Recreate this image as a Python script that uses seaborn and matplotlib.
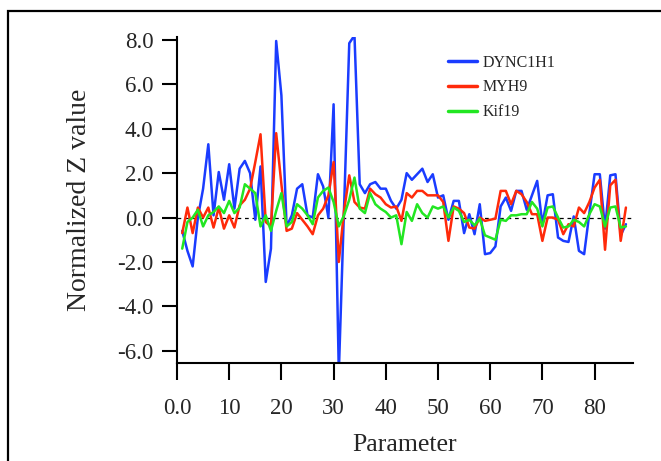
import numpy as np
import pandas as pd
import matplotlib
matplotlib.use("Agg")
import matplotlib.pyplot as plt
import seaborn as sns
from matplotlib.patches import Rectangle
from matplotlib.lines import Line2D

params = list(range(1, 87))
dync1h1 = [-0.6, -1.5, -2.2, 0.0, 1.3, 3.3, 0.1, 2.05, 0.8, 2.4,
           0.4, 2.2, 2.55, 2.0, -0.1, 2.3, -2.9, -1.4, 7.95, 5.5,
           -0.4, 0.1, 1.3, 1.5, 0.1, 0.0, 1.95, 1.4, 0.0, 5.1,
           -7.0, 0.4, 7.85, 8.2, 1.5, 1.1, 1.5, 1.6, 1.3, 1.3,
           0.75, 0.4, 0.8, 2.0, 1.7, 1.95, 2.2, 1.6, 1.95, 0.9,
           1.0, -0.1, 0.75, 0.75, -0.7, 0.15, -0.75, 0.6, -1.65, -1.6,
           -1.3, 0.5, 0.9, 0.3, 1.2, 1.2, 0.35, 1.0, 1.65, -0.3,
           1.0, 1.05, -0.9, -1.05, -1.1, 0.05, -1.5, -1.65, 0.2, 1.95,
           1.95, -0.5, 1.9, 1.95, -0.8, -0.3]
myh9 = [-0.7, 0.45, -0.7, 0.45, 0.0, 0.45, -0.45, 0.45, -0.5, 0.1,
        -0.45, 0.55, 0.8, 1.3, 2.5, 3.75, -0.2, -0.4, 3.8, 1.5,
        -0.6, -0.5, 0.2, -0.1, -0.4, -0.75, 0.1, 0.4, 1.0, 2.5,
        -2.0, 0.3, 1.9, 0.7, 0.45, 0.4, 1.3, 1.05, 0.9, 0.6,
        0.45, 0.5, -0.15, 1.1, 0.9, 1.2, 1.2, 1.0, 1.0, 1.0,
        0.7, -1.05, 0.5, 0.4, 0.2, -0.45, -0.5, 0.0, -0.15, -0.1,
        -0.05, 1.2, 1.2, 0.6, 1.2, 1.05, 0.7, 0.15, 0.15, -1.05,
        0.0, 0.0, -0.1, -0.75, -0.3, -0.4, 0.45, 0.2, 0.7, 1.35,
        1.7, -1.45, 1.45, 1.7, -1.05, 0.45]
kif19 = [-1.4, -0.2, 0.0, 0.35, -0.4, 0.1, 0.25, 0.5, 0.2, 0.75,
         0.2, 0.45, 1.5, 1.3, 1.1, -0.4, 0.1, -0.6, 0.3, 1.1,
         -0.4, -0.2, 0.6, 0.4, 0.1, -0.3, 0.9, 1.2, 1.35, 0.7,
         -0.4, 0.1, 0.8, 1.8, 0.4, 0.2, 1.1, 0.6, 0.4, 0.25,
         0.0, 0.1, -1.2, 0.25, -0.15, 0.6, 0.2, 0.0, 0.5, 0.4,
         0.5, 0.0, 0.45, 0.3, -0.2, -0.1, -0.35, -0.05, -0.8, -0.9,
         -1.0, -0.1, -0.15, 0.1, 0.1, 0.15, 0.15, 0.7, 0.4, -0.4,
         0.45, 0.5, 0.0, -0.45, -0.4, -0.1, -0.2, -0.4, 0.15, 0.6,
         0.5, -0.4, 0.45, 0.5, -0.45, -0.4]

series_names = ["DYNC1H1", "MYH9", "Kif19"]
colors = ["#1a3cff", "#ff2a0a", "#22e622"]
xticks = [0, 10, 20, 30, 40, 50, 60, 70, 80]
xticklabels = ["0.0", "10", "20", "30", "40", "50", "60", "70", "80"]
yticks = [8, 6, 4, 2, 0, -2, -4, -6]
yticklabels = ["8.0", "6.0", "4.0", "2.0", "0.0", "-2.0", "-4.0", "-6.0"]

df = pd.DataFrame({
    "Parameter": params * 3,
    "Z": dync1h1 + myh9 + kif19,
    "gene": sum([[n] * len(params) for n in series_names], []),
})

sns.set_style("ticks")
plt.rcParams["font.family"] = ["Liberation Serif", "DejaVu Serif"]

fig = plt.figure(figsize=(6.61, 4.61), dpi=100)
ax = fig.add_axes([177 / 661, 1 - 363 / 461, (632.7 - 177) / 661, (363 - 37) / 461])

sns.lineplot(data=df, x="Parameter", y="Z", hue="gene", hue_order=series_names,
             palette=dict(zip(series_names, colors)), linewidth=1.8, ax=ax,
             legend=False)

ax.axhline(0, color="black", linestyle=(0, (3, 3)), linewidth=0.9, zorder=0)

ax.set_xlim(0, 87.3)
ax.set_ylim(-6.55, 8.13)
ax.set_xticks(xticks)
ax.set_xticklabels(xticklabels)
ax.set_yticks(yticks)
ax.set_yticklabels(yticklabels)
ax.tick_params(axis="x", direction="out", length=12, width=1.5, labelsize=16.5, pad=13, color="black")
ax.tick_params(axis="y", direction="out", length=11, width=1.5, labelsize=16.5, pad=6, color="black")
for s in ["top", "right"]:
    ax.spines[s].set_visible(False)
for s in ["left", "bottom"]:
    ax.spines[s].set_linewidth(1.5)
    ax.spines[s].set_color("black")

ax.set_xlabel("Parameter", fontsize=18.5, labelpad=11)
ax.set_ylabel("Normalized Z value", fontsize=20, labelpad=18)

handles = [Line2D([0], [0], color=c, lw=2.5) for c in colors]
ax.legend(handles, series_names, loc="upper left", bbox_to_anchor=(0.57, 0.98),
          frameon=False, fontsize=11.5, handlelength=1.85, handletextpad=0.35,
          labelspacing=0.55, borderpad=0.2)

fig.patches.append(Rectangle((8 / 661, -0.1), 1.2, 1 - 11 / 461 + 0.1,
                             transform=fig.transFigure, fill=False,
                             edgecolor="black", linewidth=1.6))

fig.savefig("out.png", dpi=100)
